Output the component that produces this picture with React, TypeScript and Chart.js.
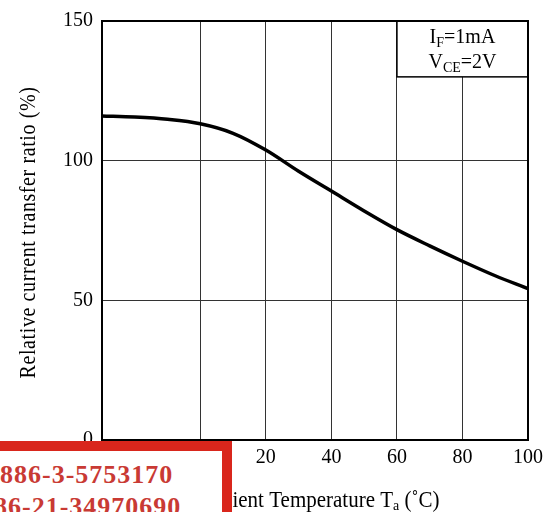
import React, { useEffect, useRef } from "react";
import { Chart, registerables } from "chart.js";

Chart.register(...registerables);

const temps = [-30, -20, -10, 0, 10, 20, 30, 40, 50, 60, 70, 80, 90, 100];
const ratio = [116, 115.6, 114.8, 113.2, 109.8, 103.8, 96.2, 89.1, 82, 75.3, 69.5, 64, 58.8, 54.2];
const xTicks = [-30, 0, 20, 40, 60, 80, 100];
const yTicks = [0, 50, 100, 150];
const yTitle = "Relative current transfer ratio (%)";
const xTitleMain = "Ambient Temperature T";
const xTitleSub = "a";
const xTitleEnd = " (\u02DAC)";
const condIF = ["I", "F", "=1mA"];
const condVCE = ["V", "CE", "=2V"];
const legendRange = { xMin: 60, xMax: 100, yMin: 130, yMax: 150 };
const contactLines = ["886-3-5753170", "86-21-34970690"];

const SERIF = "'Liberation Serif', 'DejaVu Serif', serif";

function drawSubText(ctx: CanvasRenderingContext2D, parts: string[], cx: number, baseline: number, size: number) {
  const big = `${size}px ${SERIF}`;
  const small = `${Math.round(size * 0.68)}px ${SERIF}`;
  ctx.font = big;
  const w0 = ctx.measureText(parts[0]).width;
  const w2 = ctx.measureText(parts[2]).width;
  ctx.font = small;
  const w1 = ctx.measureText(parts[1]).width;
  let x = cx - (w0 + w1 + w2) / 2;
  ctx.textAlign = "left";
  ctx.textBaseline = "alphabetic";
  ctx.fillStyle = "#000";
  ctx.font = big;
  ctx.fillText(parts[0], x, baseline);
  x += w0;
  ctx.font = small;
  ctx.fillText(parts[1], x, baseline + size * 0.2);
  x += w1;
  ctx.font = big;
  ctx.fillText(parts[2], x, baseline);
}

const framePlugin = {
  id: "frameAndNotes",
  afterDatasetsDraw(chart: any) {
    const ctx: CanvasRenderingContext2D = chart.ctx;
    const { left, right, top, bottom } = chart.chartArea;
    const xs = chart.scales.x;
    const ys = chart.scales.y;
    ctx.save();
    // condition box
    const bx0 = xs.getPixelForValue(legendRange.xMin);
    const bx1 = xs.getPixelForValue(legendRange.xMax);
    const by0 = ys.getPixelForValue(legendRange.yMax);
    const by1 = ys.getPixelForValue(legendRange.yMin);
    ctx.fillStyle = "#fff";
    ctx.fillRect(bx0, by0, bx1 - bx0, by1 - by0);
    ctx.strokeStyle = "#000";
    ctx.lineWidth = 1.5;
    ctx.strokeRect(bx0, by0, bx1 - bx0, by1 - by0);
    const cx = (bx0 + bx1) / 2;
    drawSubText(ctx, condIF, cx, by0 + 22, 20);
    drawSubText(ctx, condVCE, cx, by0 + 47, 20);
    // frame
    ctx.strokeStyle = "#000";
    ctx.lineWidth = 2;
    ctx.strokeRect(left, top, right - left, bottom - top);

    // x title with subscript
    const size = 21;
    const big = `${size}px ${SERIF}`;
    const small = `${Math.round(size * 0.68)}px ${SERIF}`;
    ctx.font = big;
    const w0 = ctx.measureText(xTitleMain).width;
    const w2 = ctx.measureText(xTitleEnd).width;
    ctx.font = small;
    const w1 = ctx.measureText(xTitleSub).width;
    let x = (left + right) / 2 - (w0 + w1 + w2) / 2;
    const base = 507;
    ctx.fillStyle = "#000";
    ctx.textAlign = "left";
    ctx.textBaseline = "alphabetic";
    ctx.save();
    ctx.translate(0, base);
    ctx.scale(1, 1.1);
    ctx.font = big;
    ctx.fillText(xTitleMain, x, 0);
    x += w0;
    ctx.font = small;
    ctx.fillText(xTitleSub, x, 3);
    x += w1;
    ctx.font = big;
    ctx.fillText(xTitleEnd, x, 0);
    ctx.restore();

    // y title
    ctx.save();
    ctx.translate(35, (top + bottom) / 2 + 2);
    ctx.rotate(-Math.PI / 2);
    ctx.scale(1, 1.2);
    ctx.font = `20px ${SERIF}`;
    (ctx as any).letterSpacing = "0.6px";
    ctx.textAlign = "center";
    ctx.textBaseline = "alphabetic";
    ctx.fillText(yTitle, 0, 0);
    ctx.restore();
    ctx.restore();
  },
};

export default function App() {
  const ref = useRef<HTMLCanvasElement | null>(null);
  useEffect(() => {
    document.body.style.margin = "0";
    if (!ref.current) return;
    const tickFont = { family: SERIF, size: 20 };
    const chart = new Chart(ref.current, {
      type: "line",
      data: {
        datasets: [
          {
            data: temps.map((t, i) => ({ x: t, y: ratio[i] })),
            borderColor: "#000",
            borderWidth: 3.5,
            pointRadius: 0,
            fill: false,
            cubicInterpolationMode: "monotone",
          },
        ],
      },
      options: {
        responsive: false,
        animation: false,
        events: [],
        layout: { padding: { top: 16, right: 28, left: 0, bottom: 0 } },
        plugins: { legend: { display: false }, tooltip: { enabled: false }, title: { display: false } },
        scales: {
          x: {
            type: "linear",
            min: -30,
            max: 100,
            afterBuildTicks: (s: any) => {
              s.ticks = xTicks.map((v) => ({ value: v }));
            },
            afterFit: (s: any) => {
              s.height = 72;
            },
            ticks: { font: tickFont, color: "#000", padding: 6, maxRotation: 0, autoSkip: false },
            grid: { color: "#333", lineWidth: 1, drawTicks: false },
            border: { color: "#000", width: 2 },
          },
          y: {
            type: "linear",
            min: 0,
            max: 150,
            afterBuildTicks: (s: any) => {
              s.ticks = yTicks.map((v) => ({ value: v }));
            },
            afterFit: (s: any) => {
              s.width = 102;
            },
            ticks: { font: tickFont, color: "#000", padding: 9, autoSkip: false },
            grid: { color: "#333", lineWidth: 1, drawTicks: false },
            border: { color: "#000", width: 2 },
          },
        },
      },
      plugins: [framePlugin],
    } as any);
    return () => chart.destroy();
  }, []);
  return (
    <div style={{ position: "relative", width: 556, height: 512, overflow: "hidden", background: "#fff" }}>
      <canvas ref={ref} width={556} height={512} />
      <div
        style={{
          position: "absolute",
          left: -20,
          top: 441,
          width: 252,
          height: 90,
          border: "10px solid #d9261c",
          boxSizing: "border-box",
          background: "#fff",
          overflow: "hidden",
        }}
      >
        <div
          style={{
            position: "absolute",
            left: 10,
            top: 8,
            font: `bold 26px ${SERIF}`,
            color: "#c93a34",
            whiteSpace: "nowrap",
            lineHeight: "32px",
            letterSpacing: "1px",
          }}
        >
          <div>{contactLines[0]}</div>
          <div style={{ marginLeft: -6 }}>{contactLines[1]}</div>
        </div>
      </div>
    </div>
  );
}
